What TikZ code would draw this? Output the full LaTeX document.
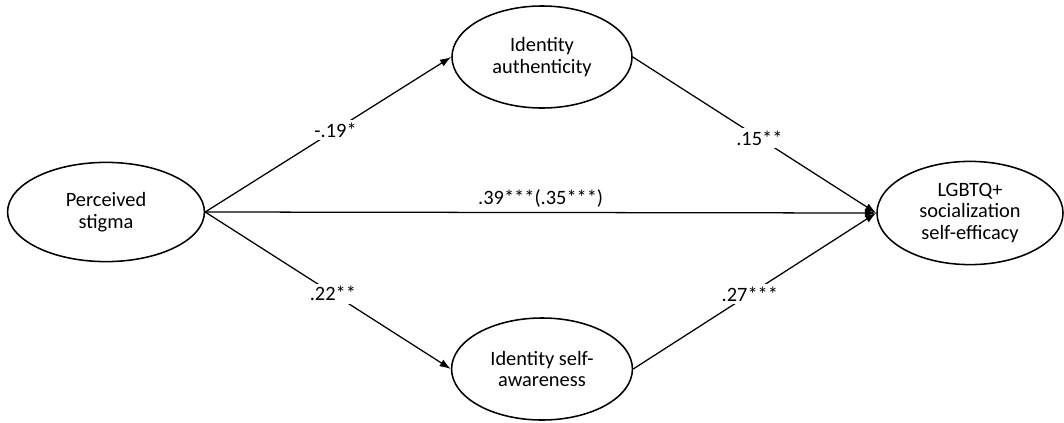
\documentclass[tikz,border=0pt]{standalone}
\usepackage{fontspec}
\setmainfont{Carlito}
\usetikzlibrary{shapes.geometric,arrows.meta}
\begin{document}
\begin{tikzpicture}[x=0.025cm,y=-0.025cm,
    font=\fontsize{14.5pt}{15.5pt}\selectfont,
    var/.style={draw,ellipse,line width=1.1pt,align=center,inner sep=0pt},
    effect/.style={line width=0.9pt,-{Latex[length=8pt,width=5.5pt]}},
    coef/.style={fill=white,inner sep=2pt}]
    \useasboundingbox (0,0) rectangle (1064,422);
    % variables
    \node[var,minimum width=4.92cm,minimum height=2.48cm] (stigma) at (106,212) {Perceived\\stigma};
    \node[var,minimum width=4.5cm,minimum height=2.55cm] (auth) at (542,57) {Identity\\authenticity};
    \node[var,minimum width=4.52cm,minimum height=2.55cm] (aware) at (542,369) {Identity self-\\awareness};
    \node[var,minimum width=4.65cm,minimum height=2.58cm] (efficacy) at (970,213) {LGBTQ+\\socialization\\self-efficacy};
    % paths
    \draw[effect] (stigma.east) -- node[coef,pos=0.53] {-.19*} (auth.west);
    \draw[effect] (stigma.east) -- node[coef,pos=0.52] {.22**} (aware.west);
    \draw[effect] (auth.east) -- node[coef,pos=0.52] {.15**} (efficacy.west);
    \draw[effect] (aware.east) -- node[coef,pos=0.48] {.27***} (efficacy.west);
    \draw[effect] (stigma.east) -- node[above,pos=0.5] {.39***(.35***)} (efficacy.west);
\end{tikzpicture}
\end{document}
